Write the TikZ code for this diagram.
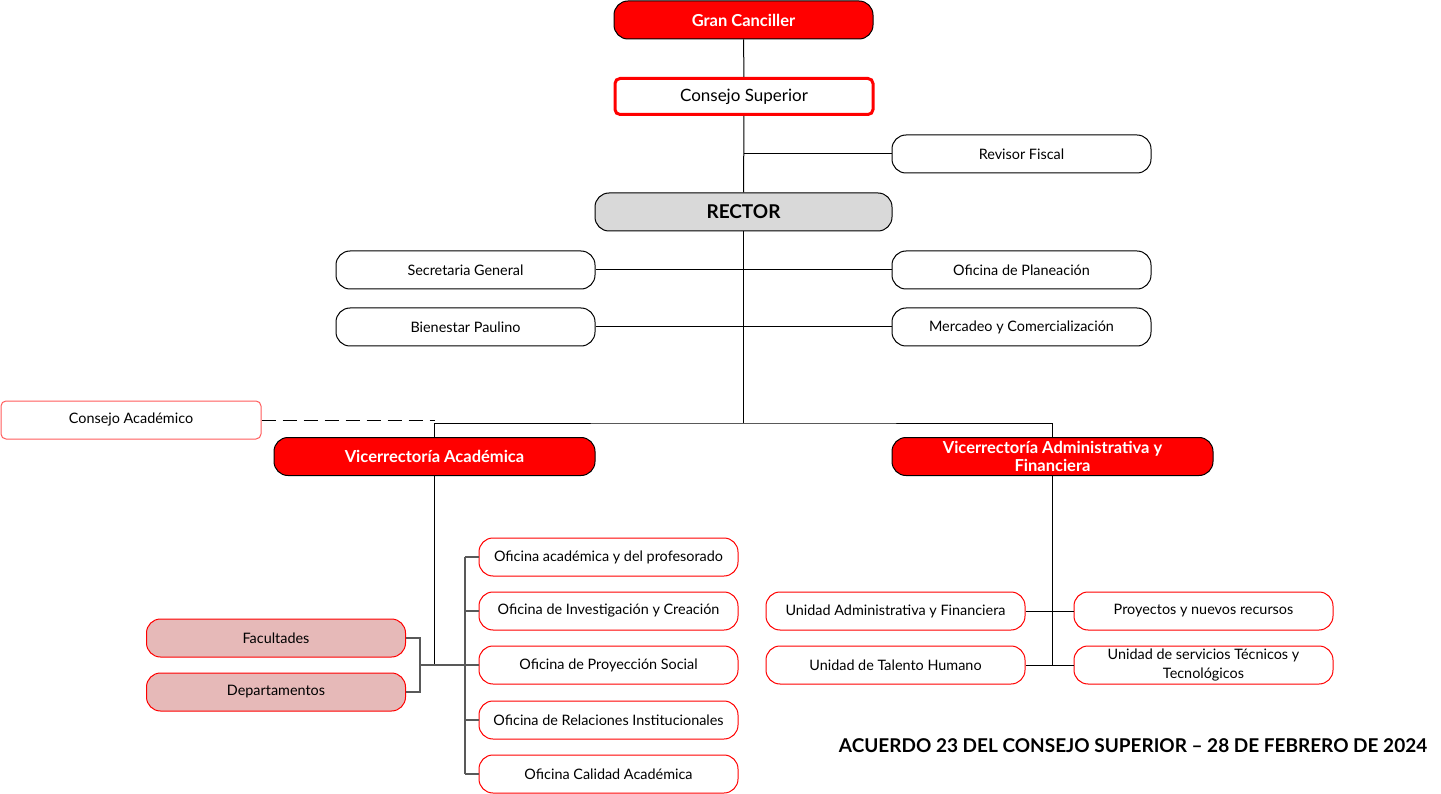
\documentclass[tikz,border=0pt]{standalone}
\usepackage{fontspec}
\setmainfont{Lato}
\definecolor{rectorgray}{HTML}{D9D9D9}
\definecolor{facpink}{HTML}{E6B9B8}
\definecolor{lightred}{HTML}{FF5B5B}
\definecolor{linegray}{HTML}{595959}

\begin{document}
\begin{tikzpicture}[x=1pt, y=-1pt, line width=1pt]

		\tikzset{
			pill/.style={draw=black, fill=white, rounded corners=14pt, minimum width=259pt, minimum height=38pt, inner sep=2pt, align=center, font=\fontsize{14.4}{18.5}\selectfont},
			pillred/.style={pill, fill=red, text=white, font=\bfseries\fontsize{16.5}{18}\selectfont},
			ofibox/.style={pill, draw=red},
			facbox/.style={pill, draw=red, fill=facpink},
			grayline/.style={draw=linegray, line width=1.5pt},
		}

		\useasboundingbox (0,0) rectangle (1441,794);

		\node [pillred] (gran) at (743.5,20) {Gran Canciller};
		\node [pill, draw=red, line width=3pt, rounded corners=5pt, minimum width=258pt, minimum height=36pt, font=\fontsize{17}{18}\selectfont] (consejo) at (744,96.5) {Consejo Superior};
		\node [pill] (revisor) at (1021.5,154) {Revisor Fiscal};
		\node [pill, fill=rectorgray, minimum width=297pt, font=\bfseries\fontsize{19}{20}\selectfont] (rector) at (743.5,212) {RECTOR};

		\node [pill] (secretaria) at (465.5,270) {Secretaria General};
		\node [pill] (planeacion) at (1021.5,270) {Oficina de Planeación};
		\node [pill] (bienestar) at (465.5,327) {Bienestar Paulino};
		\node [pill] (mercadeo) at (1021.5,327) {Mercadeo y Comercialización};

		\node [pill, draw=lightred, rounded corners=5pt, minimum width=260pt] (academico) at (131,420) {Consejo Académico};

		\node [pillred, minimum width=321pt] (vacad) at (434.5,456.5) {Vicerrectoría Académica};
		\node [pillred, minimum width=321pt] (vaf) at (1052.5,456.5) {Vicerrectoría Administrativa y\\Financiera};

		% oficinas de la vicerrectoria academica
		\node [ofibox] (ofi1) at (608.5,557) {Oficina académica y del profesorado};
		\node [ofibox] (ofi2) at (608.5,611) {Oficina de Investigación y Creación};
		\node [ofibox] (ofi3) at (608.5,665) {Oficina de Proyección Social};
		\node [ofibox] (ofi4) at (608.5,720) {Oficina de Relaciones Institucionales};
		\node [ofibox] (ofi5) at (608.5,774) {Oficina Calidad Académica};

		\node [facbox] (facultades) at (276,638) {Facultades};
		\node [facbox] (departamentos) at (276,692) {Departamentos};

		% unidades de la vicerrectoria administrativa
		\node [ofibox] (uniadmin) at (895.5,611) {Unidad Administrativa y Financiera};
		\node [ofibox] (talento) at (895.5,665) {Unidad de Talento Humano};
		\node [ofibox] (proyectos) at (1203.5,611) {Proyectos y nuevos recursos};
		\node [ofibox] (servicios) at (1203.5,665) {Unidad de servicios Técnicos y\\Tecnológicos};

		\node [anchor=east, font=\bfseries\fontsize{19}{20}\selectfont] (acuerdo) at (1431,746) {ACUERDO 23 DEL CONSEJO SUPERIOR – 28 DE FEBRERO DE 2024};

		\coordinate (bus) at (743.5,423);
		\coordinate (vajoin) at (434.5,665);
		\coordinate (facbus) at (420,665);
		\coordinate (ofibus) at (465,665);

		\draw (gran) -- (consejo);
		\draw (consejo) -- (rector);
		\draw (revisor.west) -- (revisor.west -| consejo.south);
		\draw (secretaria) -- (planeacion);
		\draw (bienestar) -- (mercadeo);
		\draw (rector.south) -- (bus);
		\draw (vacad.north) |- (bus) -| (vaf.north);
		\draw [dash pattern=on 14pt off 7pt] (academico.east) -- (academico.east -| vacad.north);

		\draw (vacad.south) -- (vajoin);
		\draw [grayline] (facultades.east) -| (facbus) |- (departamentos.east);
		\draw [grayline] (facbus) -- (ofibus);
		\draw [grayline] (ofi1.west -| ofibus) -- (ofi5.west -| ofibus);
		\foreach \n in {1,...,5}
			\draw [grayline] (ofi\n.west) -- (ofi\n.west -| ofibus);

		\draw (vaf.south) -- (vaf.south |- talento.east);
		\draw (uniadmin) -- (proyectos);
		\draw (talento) -- (servicios);
\end{tikzpicture}
\end{document}
